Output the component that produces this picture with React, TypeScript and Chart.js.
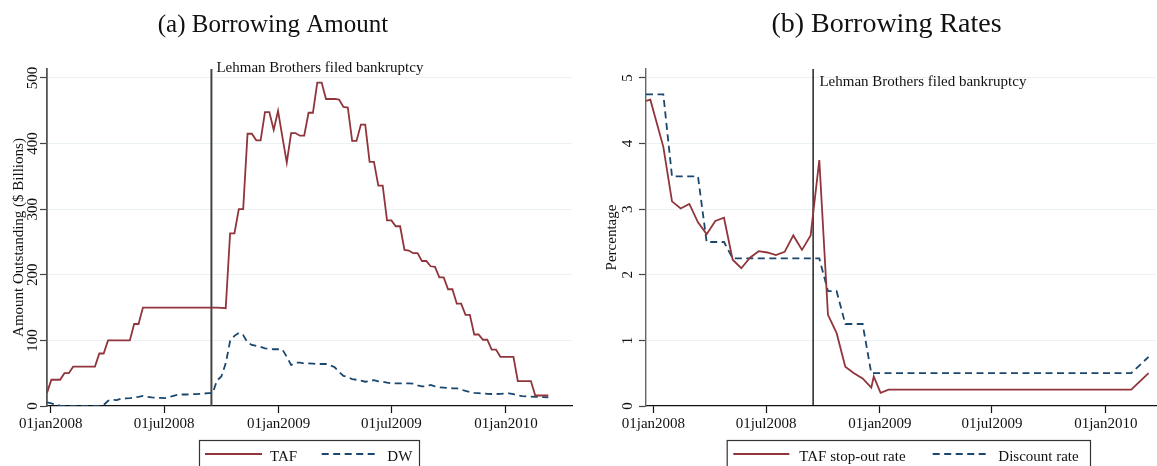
import React, { useEffect, useRef } from 'react';
import { Chart, registerables } from 'chart.js';

Chart.register(...registerables);

const SERIF = '"Liberation Serif", "Times New Roman", Times, serif';
const MAROON = '#90353b';
const NAVY = '#1a476f';
const GRID = '#eaf2f3';

// ---------- Panel (a): amounts outstanding, $ billions, weekly (Wednesdays) ----------
const amountWeekStart = '2007-12-26';
const tafAmount = [
  20, 40, 40, 40, 50, 50, 60, 60, 60, 60,
  60, 60, 80, 80, 100, 100, 100, 100, 100, 100,
  125, 125, 150, 150, 150, 150, 150, 150, 150, 150,
  150, 150, 150, 150, 150, 150, 150, 150, 150, 150,
  149.5, 149, 263, 263, 300, 300, 415, 415, 405, 405,
  448, 448, 421, 450, 410, 371, 416, 416, 412, 412,
  447, 447, 493, 493, 468, 468, 468, 467, 456, 455,
  404, 404, 429, 429, 372, 372, 336, 336, 283, 283,
  274, 274, 238, 237, 233, 233, 221, 221, 213, 212,
  196, 196, 178, 178, 156, 156, 139, 139, 109, 109,
  101, 101, 86, 86, 75, 75, 75, 75, 38, 38,
  38, 38, 16, 16, 16, 16,
];
const dwAmount = [
  5.5, 4, 2, 0.5, 0.3, 0.2, 0.2, 0.2, 0.2, 0.2,
  0.2, 0.3, 0.5, 1.5, 8, 9.5, 9, 11, 11.5, 12,
  13, 14, 15.5, 14, 13, 12.7, 12.3, 12, 13.5, 15.5,
  17, 17.5, 17.5, 18, 18, 18.5, 19, 19.5, 19.5, 39,
  45, 65, 99, 107, 111.5, 108, 97, 93, 91.5, 90,
  88, 87, 86.5, 86.5, 86, 75, 62.5, 66, 66, 65,
  65, 64.5, 64, 64, 64, 62, 59, 52, 46, 44,
  41, 40, 38.5, 37, 38, 39.5, 37.5, 37, 35.5, 34.5,
  34.5, 34.5, 34.5, 34.5, 34, 31.5, 30, 30, 32, 30,
  28.5, 28, 27.5, 27, 27, 25, 23, 21.5, 20, 19.5,
  19, 18.5, 18.3, 18.3, 18.5, 19, 19.3, 18, 16, 15,
  14.5, 14.2, 14, 13.7, 13.5, 13.2,
];

// ---------- Panel (b): rates, percent, at TAF settlement dates ----------
const rateDates = [
  '2007-12-20', '2007-12-27',
  '2008-01-17', '2008-01-31', '2008-02-14', '2008-02-28', '2008-03-13', '2008-03-27',
  '2008-04-10', '2008-04-24', '2008-05-08', '2008-05-22', '2008-06-05', '2008-06-19',
  '2008-07-03', '2008-07-17', '2008-07-31', '2008-08-14', '2008-08-28', '2008-09-11',
  '2008-09-25', '2008-10-09', '2008-10-23', '2008-11-06', '2008-11-20', '2008-12-04',
  '2008-12-18', '2008-12-22',
  '2009-01-02', '2009-01-15', '2009-01-29', '2009-02-12', '2009-02-26', '2009-03-12',
  '2009-03-26', '2009-04-09', '2009-04-23', '2009-05-07', '2009-05-21', '2009-06-04',
  '2009-06-18', '2009-07-02', '2009-07-16', '2009-07-30', '2009-08-13', '2009-08-27',
  '2009-09-10', '2009-09-24', '2009-10-08', '2009-10-22', '2009-11-05', '2009-11-19',
  '2009-12-03', '2009-12-17', '2009-12-31',
  '2010-01-14', '2010-01-28', '2010-02-11', '2010-03-11',
];
const tafRate = [
  4.65, 4.67,
  3.95, 3.12, 3.01, 3.08, 2.80, 2.62,
  2.82, 2.87, 2.23, 2.10, 2.26, 2.36,
  2.34, 2.30, 2.35, 2.60, 2.38, 2.60,
  3.75, 1.39, 1.11, 0.60, 0.50, 0.42,
  0.28, 0.45,
  0.20, 0.25, 0.25, 0.25, 0.25, 0.25,
  0.25, 0.25, 0.25, 0.25, 0.25, 0.25,
  0.25, 0.25, 0.25, 0.25, 0.25, 0.25,
  0.25, 0.25, 0.25, 0.25, 0.25, 0.25,
  0.25, 0.25, 0.25,
  0.25, 0.25, 0.25, 0.50,
];
const discountRate = [
  4.75, 4.75,
  4.75, 3.5, 3.5, 3.5, 3.5, 2.5,
  2.5, 2.5, 2.25, 2.25, 2.25, 2.25,
  2.25, 2.25, 2.25, 2.25, 2.25, 2.25,
  2.25, 1.75, 1.75, 1.25, 1.25, 1.25,
  0.5, 0.5,
  0.5, 0.5, 0.5, 0.5, 0.5, 0.5,
  0.5, 0.5, 0.5, 0.5, 0.5, 0.5,
  0.5, 0.5, 0.5, 0.5, 0.5, 0.5,
  0.5, 0.5, 0.5, 0.5, 0.5, 0.5,
  0.5, 0.5, 0.5,
  0.5, 0.5, 0.5, 0.75,
];

// ---------- Axes ----------
const xTickDates = ['2008-01-01', '2008-07-01', '2009-01-01', '2009-07-01', '2010-01-01'];
const xTickLabels = ['01jan2008', '01jul2008', '01jan2009', '01jul2009', '01jan2010'];
const amountTicks = [0, 100, 200, 300, 400, 500];
const rateTicks = [0, 1, 2, 3, 4, 5];
const lehmanDate = '2008-09-15';
const lehmanLabel = 'Lehman Brothers filed bankruptcy';

function dayNum(iso: string): number {
  const [y, m, d] = iso.split('-').map(Number);
  return Math.round((Date.UTC(y, m - 1, d) - Date.UTC(2008, 0, 1)) / 86400000);
}

function weeklyDays(startIso: string, n: number): number[] {
  const s = dayNum(startIso);
  return Array.from({ length: n }, (_, i) => s + 7 * i);
}

type LegendItem = { x0: number; x1: number; textX: number; label: string; color: string; dash: number[] };
type PanelSpec = {
  key: string;
  canvasLeft: number;
  width: number;
  title: string;
  titleX: number;
  titleSize: number;
  yTitle: string;
  yTicks: number[];
  yTickGap: number;
  yTitleGap: number;
  xMin: number;
  xMax: number;
  yMax: number;
  yAxisWidth: number;
  padRight: number;
  yBorderColor: string;
  yBorderWidth: number;
  lehmanColor: string;
  lehmanWidth: number;
  lehmanTextDx: number;
  lehmanTextY: number;
  legendX: number;
  legendW: number;
  legend: LegendItem[];
  datasets: any[];
};

function panelPlugin(p: PanelSpec) {
  return {
    id: 'panel-' + p.key,
    beforeDatasetsDraw(chart: any) {
      const { ctx, chartArea } = chart;
      const x = chart.scales.x.getPixelForValue(dayNum(lehmanDate));
      ctx.save();
      ctx.strokeStyle = p.lehmanColor;
      ctx.lineWidth = p.lehmanWidth;
      ctx.beginPath();
      ctx.moveTo(x, chartArea.top);
      ctx.lineTo(x, chartArea.bottom);
      ctx.stroke();
      ctx.restore();
    },
    afterDraw(chart: any) {
      const { ctx, chartArea } = chart;
      const xs = chart.scales.x;
      const ys = chart.scales.y;
      ctx.save();
      ctx.fillStyle = '#111';
      ctx.textBaseline = 'alphabetic';
      // title
      ctx.font = `${p.titleSize}px ${SERIF}`;
      ctx.textAlign = 'center';
      ctx.fillText(p.title, p.titleX, 32);
      // y tick labels (rotated)
      ctx.font = `15px ${SERIF}`;
      p.yTicks.forEach((v) => {
        const y = ys.getPixelForValue(v);
        ctx.save();
        ctx.translate(chartArea.left - p.yTickGap, y);
        ctx.rotate(-Math.PI / 2);
        ctx.textAlign = 'center';
        ctx.fillText(String(v), 0, 0);
        ctx.restore();
      });
      // y title
      ctx.save();
      ctx.translate(chartArea.left - p.yTitleGap, (chartArea.top + chartArea.bottom) / 2);
      ctx.rotate(-Math.PI / 2);
      ctx.textAlign = 'center';
      ctx.fillText(p.yTitle, 0, 0);
      ctx.restore();
      // Lehman label
      const lx = xs.getPixelForValue(dayNum(lehmanDate));
      ctx.textAlign = 'left';
      ctx.fillText(lehmanLabel, lx + p.lehmanTextDx, p.lehmanTextY);
      // legend
      ctx.strokeStyle = '#333';
      ctx.lineWidth = 1.2;
      ctx.strokeRect(p.legendX + 0.5, 440.5, p.legendW, 40);
      p.legend.forEach((it) => {
        ctx.save();
        ctx.strokeStyle = it.color;
        ctx.lineWidth = 1.8;
        ctx.setLineDash(it.dash);
        ctx.beginPath();
        ctx.moveTo(it.x0, 454);
        ctx.lineTo(it.x1, 454);
        ctx.stroke();
        ctx.restore();
        ctx.fillText(it.label, it.textX, 461);
      });
      ctx.restore();
    },
  };
}

function buildConfig(p: PanelSpec): any {
  const xTickValues = xTickDates.map(dayNum);
  return {
    type: 'line',
    data: { datasets: p.datasets },
    options: {
      animation: false,
      responsive: false,
      maintainAspectRatio: false,
      devicePixelRatio: 1,
      events: [],
      layout: { padding: { left: 0, right: p.padRight, top: 69, bottom: 0 } },
      plugins: { legend: { display: false }, title: { display: false }, tooltip: { enabled: false } },
      elements: { point: { radius: 0 }, line: { tension: 0 } },
      scales: {
        x: {
          type: 'linear',
          min: p.xMin,
          max: p.xMax,
          afterBuildTicks: (s: any) => {
            s.ticks = xTickValues.map((v) => ({ value: v }));
          },
          afterFit: (s: any) => {
            s.height = 60;
          },
          grid: { drawOnChartArea: false, drawTicks: true, tickLength: 7, tickColor: '#111', tickWidth: 1.2 },
          border: { display: true, color: '#111', width: 1.2 },
          ticks: {
            autoSkip: false,
            maxRotation: 0,
            minRotation: 0,
            padding: 2,
            color: '#111',
            font: { family: SERIF, size: 15 },
            callback: (_v: any, i: number) => xTickLabels[i],
          },
        },
        y: {
          type: 'linear',
          min: 0,
          max: p.yMax,
          afterBuildTicks: (s: any) => {
            s.ticks = p.yTicks.map((v) => ({ value: v }));
          },
          afterFit: (s: any) => {
            s.width = p.yAxisWidth;
          },
          grid: {
            color: (c: any) => (c.tick && c.tick.value === 0 ? 'rgba(0,0,0,0)' : GRID),
            lineWidth: 1,
            drawTicks: true,
            tickLength: 7,
            tickColor: '#444',
            tickWidth: 1.2,
          },
          border: { display: true, color: p.yBorderColor, width: p.yBorderWidth },
          ticks: { display: false },
        },
      },
    },
    plugins: [panelPlugin(p)],
  };
}

const amountDays = weeklyDays(amountWeekStart, tafAmount.length);
const rateDays = rateDates.map(dayNum);

const panelA: PanelSpec = {
  key: 'a',
  canvasLeft: 0,
  width: 585,
  title: '(a) Borrowing Amount',
  titleX: 273,
  titleSize: 25,
  yTitle: 'Amount Outstanding ($ Billions)',
  yTicks: amountTicks,
  yTickGap: 10.5,
  yTitleGap: 24,
  xMin: -6,
  xMax: 837,
  yMax: 513.7,
  yAxisWidth: 47,
  padRight: 13,
  yBorderColor: '#555',
  yBorderWidth: 1.8,
  lehmanColor: '#444',
  lehmanWidth: 2,
  lehmanTextDx: 5,
  lehmanTextY: 71.5,
  legendX: 199,
  legendW: 220,
  legend: [
    { x0: 205, x1: 262, textX: 270, label: 'TAF', color: MAROON, dash: [] },
    { x0: 321.7, x1: 378.3, textX: 387.3, label: 'DW', color: NAVY, dash: [7, 4.5] },
  ],
  datasets: [
    {
      label: 'TAF',
      data: amountDays.map((d, i) => ({ x: d, y: tafAmount[i] })),
      borderColor: MAROON,
      borderWidth: 1.8,
      fill: false,
    },
    {
      label: 'DW',
      data: amountDays.map((d, i) => ({ x: d, y: dwAmount[i] })),
      borderColor: NAVY,
      borderWidth: 1.8,
      borderDash: [7, 4.5],
      fill: false,
    },
  ],
};

const panelB: PanelSpec = {
  key: 'b',
  canvasLeft: 585,
  width: 572,
  title: '(b) Borrowing Rates',
  titleX: 301.5,
  titleSize: 28,
  yTitle: 'Percentage',
  yTicks: rateTicks,
  yTickGap: 13.7,
  yTitleGap: 30,
  xMin: -12,
  xMax: 812,
  yMax: 5.137,
  yAxisWidth: 61,
  padRight: 1,
  yBorderColor: '#666',
  yBorderWidth: 1.4,
  lehmanColor: '#000',
  lehmanWidth: 1.3,
  lehmanTextDx: 6.3,
  lehmanTextY: 85.5,
  legendX: 141.7,
  legendW: 363.3,
  legend: [
    { x0: 148.3, x1: 204.3, textX: 214.3, label: 'TAF stop-out rate', color: MAROON, dash: [] },
    { x0: 347.7, x1: 404.3, textX: 413.3, label: 'Discount rate', color: NAVY, dash: [7, 4.5] },
  ],
  datasets: [
    {
      label: 'TAF stop-out rate',
      data: rateDays.map((d, i) => ({ x: d, y: tafRate[i] })),
      borderColor: MAROON,
      borderWidth: 1.8,
      fill: false,
    },
    {
      label: 'Discount rate',
      data: rateDays.map((d, i) => ({ x: d, y: discountRate[i] })),
      borderColor: NAVY,
      borderWidth: 1.8,
      borderDash: [7, 4.5],
      fill: false,
    },
  ],
};

function Panel({ spec }: { spec: PanelSpec }) {
  const ref = useRef<HTMLCanvasElement>(null);
  useEffect(() => {
    if (!ref.current) return;
    const chart = new Chart(ref.current, buildConfig(spec));
    return () => chart.destroy();
  }, [spec]);
  return (
    <canvas
      ref={ref}
      width={spec.width}
      height={466}
      style={{ position: 'absolute', left: spec.canvasLeft, top: 0, width: spec.width, height: 466 }}
    />
  );
}

export default function App() {
  return (
    <div style={{ position: 'absolute', left: 0, top: 0, width: 1157, height: 466, background: '#fff', overflow: 'hidden' }}>
      <Panel spec={panelA} />
      <Panel spec={panelB} />
    </div>
  );
}
